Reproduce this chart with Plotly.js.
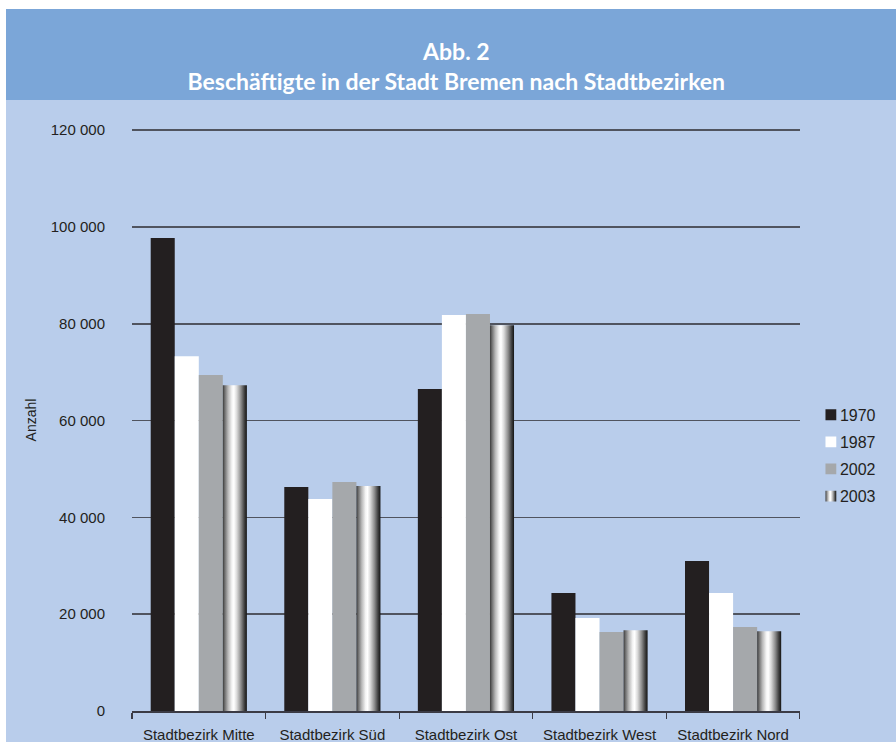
<!DOCTYPE html>
<html>
<head>
<meta charset="utf-8">
<script src="https://cdn.plot.ly/plotly-3.0.1.min.js"></script>
<style>
  html, body { margin: 0; padding: 0; background: #ffffff; }
  #frame { position: absolute; left: 6px; top: 9px; width: 890px; height: 733px; background: #B9CDEB; overflow: hidden; }
  #band { position: absolute; left: 0; top: 0; width: 890px; height: 91px; background: #7BA6D8; }
  #chart { position: absolute; left: 0; top: 0; width: 890px; height: 733px; }
</style>
</head>
<body>
<div id="frame">
  <div id="band"></div>
  <div id="chart"></div>
</div>
<script>
// Beschäftigte nach Stadtbezirken, Bremen
const districts = ["Stadtbezirk Mitte", "Stadtbezirk Süd", "Stadtbezirk Ost", "Stadtbezirk West", "Stadtbezirk Nord"];
const years = ["1970", "1987", "2002", "2003"];
const v1970 = [97700, 46300, 66500, 24400, 31000];
const v1987 = [73300, 43800, 81800, 19200, 24400];
const v2002 = [69400, 47300, 82000, 16300, 17350];
const v2003 = [67300, 46500, 79700, 16700, 16500];
const yTickVals = [0, 20000, 40000, 60000, 80000, 100000, 120000];
const yTickText = ["0", "20 000", "40 000", "60 000", "80 000", "100 000", "120 000"];

const seriesValues = [v1970, v1987, v2002, v2003];
const seriesColors = ["#231F20", "#FFFFFF", "#A5A8AB", "#9A9A9A"];

const textColor = "#231F20";
const baseFont = { family: "Liberation Sans, Arial, sans-serif", size: 15, color: textColor };

const traces = years.map((yr, i) => ({
  type: "bar",
  name: yr,
  legendgroup: yr,
  x: districts,
  y: seriesValues[i],
  marker: { color: seriesColors[i], line: { width: 0 } },
  hoverinfo: "x+y+name"
}));

const layout = {
  width: 890,
  height: 733,
  paper_bgcolor: "rgba(0,0,0,0)",
  plot_bgcolor: "rgba(0,0,0,0)",
  margin: { l: 126, r: 95, t: 120, b: 31 },
  font: baseFont,
  barmode: "group",
  bargap: 0.28,
  bargroupgap: 0,
  title: {
    text: "<b>Abb. 2</b><br><b>Beschäftigte in der Stadt Bremen nach Stadtbezirken</b>",
    font: { family: "Lato, Open Sans, sans-serif", size: 23, color: "#FFFFFF" },
    x: 0.506, xanchor: "center", xref: "container",
    y: 0.93, yanchor: "middle", yref: "container"
  },
  xaxis: {
    type: "category",
    showgrid: false,
    showline: true,
    linecolor: "#3B3B45",
    linewidth: 1.5,
    ticks: "outside",
    tickson: "boundaries",
    ticklen: 6,
    tickcolor: "#3B3B45",
    tickwidth: 1.2,
    ticklabelstandoff: 9,
    tickfont: baseFont,
    automargin: false,
    fixedrange: true
  },
  yaxis: {
    range: [0, 120240],
    tickvals: yTickVals,
    ticktext: yTickText,
    showgrid: true,
    gridcolor: "#50545F",
    gridwidth: 1.5,
    zeroline: false,
    showline: false,
    ticks: "",
    ticklabelstandoff: 26,
    tickfont: baseFont,
    automargin: false,
    fixedrange: true,
    title: { text: "Anzahl", font: { family: "Liberation Sans, Arial, sans-serif", size: 14, color: textColor }, standoff: 10 }
  },
  legend: {
    xref: "container", yref: "container",
    x: 0.892, xanchor: "left",
    y: 0.4695, yanchor: "top",
    bgcolor: "rgba(0,0,0,0)",
    font: { family: "Liberation Sans, Arial, sans-serif", size: 16, color: textColor },
    traceorder: "grouped",
    tracegroupgap: 3.3,
    itemwidth: 30
  },
  showlegend: true
};

function addCylinderFill(gd) {
  const svg = gd.querySelector("svg.main-svg");
  const ns = "http://www.w3.org/2000/svg";
  let defs = svg.querySelector("defs");
  if (!defs) { defs = document.createElementNS(ns, "defs"); svg.insertBefore(defs, svg.firstChild); }
  const grad = document.createElementNS(ns, "linearGradient");
  grad.setAttribute("id", "cylinderFill");
  grad.setAttribute("x1", "0"); grad.setAttribute("y1", "0");
  grad.setAttribute("x2", "1"); grad.setAttribute("y2", "0");
  const stops = [
    [0, "#3A3A3A"], [0.08, "#6E6E6E"], [0.22, "#B8B8B8"], [0.38, "#F4F4F4"],
    [0.46, "#FFFFFF"], [0.58, "#DADADA"], [0.75, "#8E8E8E"], [0.9, "#3F3F3F"], [1, "#141414"]
  ];
  stops.forEach(([o, c]) => {
    const s = document.createElementNS(ns, "stop");
    s.setAttribute("offset", o);
    s.setAttribute("stop-color", c);
    grad.appendChild(s);
  });
  defs.appendChild(grad);

  const barTraces = gd.querySelectorAll(".barlayer .trace");
  const last = barTraces[barTraces.length - 1];
  if (last) last.querySelectorAll("path").forEach(p => { p.style.fill = "url(#cylinderFill)"; });

  // legend swatches: slightly smaller and closer to their labels
  gd.querySelectorAll(".legend .traces").forEach((item, i, all) => {
    const pts = item.querySelector(".legendpoints");
    if (pts) pts.setAttribute("transform", "translate(13,0) scale(0.9)");
    if (i === all.length - 1) item.querySelectorAll(".legendpoints path").forEach(p => { p.style.fill = "url(#cylinderFill)"; });
  });
}

const gd = document.getElementById("chart");
Plotly.newPlot(gd, traces, layout, { displayModeBar: false, staticPlot: true }).then(addCylinderFill);
</script>
</body>
</html>
